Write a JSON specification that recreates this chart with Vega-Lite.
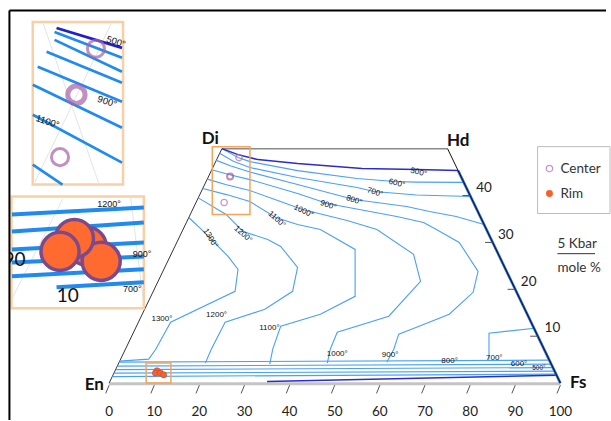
{
"$schema": "https://vega.github.io/schema/vega-lite/v6.json",
"width": 611, "height": 421, "padding": 0,
"autosize": {"type": "fit", "contains": "padding"},
"background": "white",
"config": {"view": {"stroke": null}},
"datasets": {
"seg": [
{"k":"frame","x":-22.09,"y":79.47,"x2":-22.09,"y2":-7.87},
{"k":"frame","x":-22.09,"y":79.47,"x2":110.11,"y2":79.47},
{"k":"base","x":0,"y":-0.15,"x2":100,"y2":-0.15},
{"k":"side","x":0,"y":0,"x2":25,"y2":50},
{"k":"topside","x":25,"y":50,"x2":75,"y2":50},
{"k":"rblue","x":77.34,"y":45.32,"x2":100,"y2":0},
{"k":"rblack","x":75,"y":50,"x2":100,"y2":0},
{"k":"tick","x":0,"y":-0.45,"x2":-0.75,"y2":-2.2},
{"k":"tick","x":10,"y":-0.45,"x2":9.25,"y2":-2.2},
{"k":"tick","x":20,"y":-0.45,"x2":19.25,"y2":-2.2},
{"k":"tick","x":30,"y":-0.45,"x2":29.25,"y2":-2.2},
{"k":"tick","x":40,"y":-0.45,"x2":39.25,"y2":-2.2},
{"k":"tick","x":50,"y":-0.45,"x2":49.25,"y2":-2.2},
{"k":"tick","x":60,"y":-0.45,"x2":59.25,"y2":-2.2},
{"k":"tick","x":70,"y":-0.45,"x2":69.25,"y2":-2.2},
{"k":"tick","x":80,"y":-0.45,"x2":79.25,"y2":-2.2},
{"k":"tick","x":90,"y":-0.45,"x2":89.25,"y2":-2.2},
{"k":"tick","x":100,"y":-0.45,"x2":99.25,"y2":-2.2},
{"k":"tick","x":78.3,"y":40,"x2":80,"y2":40},
{"k":"tick","x":83.3,"y":30,"x2":85,"y2":30},
{"k":"tick","x":88.3,"y":20,"x2":90,"y2":20},
{"k":"tick","x":93.3,"y":10,"x2":95,"y2":10},
{"k":"infaint","x":-14.73,"y":77.02,"x2":-2.2,"y2":42.34},
{"k":"infaint","x":0.66,"y":77.02,"x2":-16.48,"y2":42.77},
{"k":"infaint","x":-10.26,"y":39.3,"x2":-21.6,"y2":17.87},
{"k":"infaint","x":4.77,"y":39.51,"x2":7.69,"y2":16.81},
{"k":"in1d","x":-11.65,"y":75.74,"x2":2.86,"y2":71.49},
{"k":"in1","x":-12.09,"y":74.89,"x2":2.86,"y2":69.36},
{"k":"in1","x":-12.09,"y":73.19,"x2":2.86,"y2":66.38},
{"k":"in1","x":-13.85,"y":70.64,"x2":2.86,"y2":64.04},
{"k":"in1","x":-15.82,"y":67.45,"x2":2.86,"y2":60.0},
{"k":"in1","x":-16.92,"y":63.62,"x2":2.86,"y2":54.47},
{"k":"in1","x":-16.92,"y":57.23,"x2":2.86,"y2":47.02},
{"k":"in1","x":-16.92,"y":46.6,"x2":-10.33,"y2":42.34},
{"k":"in2","x":-21.54,"y":35.96,"x2":7.69,"y2":37.45},
{"k":"in2","x":-21.54,"y":32.34,"x2":7.69,"y2":34.26},
{"k":"in2","x":-21.54,"y":28.51,"x2":7.69,"y2":30.0},
{"k":"in2","x":-21.54,"y":25.74,"x2":7.69,"y2":27.02},
{"k":"in2","x":-21.54,"y":22.77,"x2":7.69,"y2":24.26},
{"k":"in2","x":-11.65,"y":20.43,"x2":7.69,"y2":21.49},
{"k":"ul","x":99.34,"y":27.6,"x2":107.69,"y2":27.6}
],
"rects": [
{"k":"obox","x":22.86,"y":50.43,"x2":31.21,"y2":35.96},
{"k":"obox","x":8.2,"y":4.26,"x2":13.69,"y2":0},
{"k":"inset","x":-16.92,"y":77.02,"x2":3.08,"y2":42.34},
{"k":"inset","x":-21.65,"y":39.79,"x2":7.69,"y2":15.96},
{"k":"mask","x":-24.18,"y":81.7,"x2":-22.1,"y2":-7.87},
{"k":"legend","x":94.95,"y":50.43,"x2":111,"y2":36.17}
],
"iso": [
{"g":"t500","o":1,"x":25,"y":50},{"g":"t500","o":2,"x":28.57,"y":48.72},{"g":"t500","o":3,"x":32.97,"y":47.66},{"g":"t500","o":4,"x":41.76,"y":46.81},{"g":"t500","o":5,"x":56.04,"y":45.74},{"g":"t500","o":6,"x":68.13,"y":45.53},{"g":"t500","o":7,"x":77.34,"y":45.32},
{"g":"b500","o":1,"x":35,"y":0.32},{"g":"b500","o":2,"x":99.15,"y":1.7},
{"g":"t600","o":1,"x":25,"y":50},{"g":"t600","o":2,"x":28.57,"y":48.09},{"g":"t600","o":3,"x":31.21,"y":47.23},{"g":"t600","o":4,"x":41.76,"y":45.32},{"g":"t600","o":5,"x":54.95,"y":43.62},{"g":"t600","o":6,"x":63.3,"y":42.98},{"g":"t600","o":7,"x":68.13,"y":42.87},{"g":"t600","o":8,"x":78.6,"y":42.8},
{"g":"t700","o":1,"x":24.5,"y":49},{"g":"t700","o":2,"x":27.5,"y":47.3},{"g":"t700","o":3,"x":31.21,"y":45.96},{"g":"t700","o":4,"x":41.76,"y":43.83},{"g":"t700","o":5,"x":54.95,"y":41.7},{"g":"t700","o":6,"x":58.68,"y":40.85},{"g":"t700","o":7,"x":68.13,"y":40.11},{"g":"t700","o":8,"x":80.1,"y":39.8},
{"g":"t800","o":1,"x":23.75,"y":47.5},{"g":"t800","o":2,"x":27,"y":46.3},{"g":"t800","o":3,"x":31.21,"y":45.0},{"g":"t800","o":4,"x":41.76,"y":42.34},{"g":"t800","o":5,"x":54.29,"y":39.15},{"g":"t800","o":6,"x":65.93,"y":37.66},{"g":"t800","o":7,"x":70.99,"y":36.6},{"g":"t800","o":8,"x":76.92,"y":35.53},{"g":"t800","o":9,"x":83.09,"y":33.83},
{"g":"t900","o":1,"x":22.75,"y":45.5},{"g":"t900","o":2,"x":26.5,"y":44.5},{"g":"t900","o":3,"x":31.21,"y":43.4},{"g":"t900","o":4,"x":41.76,"y":40.43},{"g":"t900","o":5,"x":48.35,"y":38.3},{"g":"t900","o":6,"x":63.74,"y":35.53},{"g":"t900","o":7,"x":69.67,"y":34.26},{"g":"t900","o":8,"x":72.53,"y":32.77},{"g":"t900","o":9,"x":77.58,"y":30.0},{"g":"t900","o":10,"x":81.76,"y":23.83},{"g":"t900","o":11,"x":80.66,"y":19.36},{"g":"t900","o":12,"x":75.38,"y":14.68},{"g":"t900","o":13,"x":68.13,"y":11.91},{"g":"t900","o":14,"x":64.18,"y":10.43},{"g":"t900","o":15,"x":63.08,"y":7.23},{"g":"t900","o":16,"x":61.54,"y":4.47},
{"g":"t1000","o":1,"x":21.75,"y":43.5},{"g":"t1000","o":2,"x":26,"y":42.3},{"g":"t1000","o":3,"x":31.21,"y":41.06},{"g":"t1000","o":4,"x":37.36,"y":38.94},{"g":"t1000","o":5,"x":42.86,"y":37.02},{"g":"t1000","o":6,"x":52.75,"y":34.68},{"g":"t1000","o":7,"x":59.34,"y":32.77},{"g":"t1000","o":8,"x":67.47,"y":27.45},{"g":"t1000","o":9,"x":69.01,"y":21.7},{"g":"t1000","o":10,"x":61.98,"y":14.26},{"g":"t1000","o":11,"x":50.55,"y":10.85},{"g":"t1000","o":12,"x":49.01,"y":7.23},{"g":"t1000","o":13,"x":48.35,"y":4.26},
{"g":"t1100","o":1,"x":20.75,"y":41.5},{"g":"t1100","o":2,"x":26,"y":40.2},{"g":"t1100","o":3,"x":31.21,"y":38.72},{"g":"t1100","o":4,"x":36.92,"y":35.32},{"g":"t1100","o":5,"x":41.76,"y":33.83},{"g":"t1100","o":6,"x":46.81,"y":32.77},{"g":"t1100","o":7,"x":54.51,"y":28.51},{"g":"t1100","o":8,"x":54.51,"y":18.51},{"g":"t1100","o":9,"x":46.81,"y":14.68},{"g":"t1100","o":10,"x":38.02,"y":12.13},{"g":"t1100","o":11,"x":36.26,"y":7.23},{"g":"t1100","o":12,"x":35.6,"y":4.04},
{"g":"t1200","o":1,"x":19.75,"y":39.5},{"g":"t1200","o":2,"x":25.93,"y":35.96},{"g":"t1200","o":3,"x":29.67,"y":32.34},{"g":"t1200","o":4,"x":35.16,"y":30.64},{"g":"t1200","o":5,"x":38.02,"y":29.15},{"g":"t1200","o":6,"x":41.76,"y":24.68},{"g":"t1200","o":7,"x":40.66,"y":19.57},{"g":"t1200","o":8,"x":34.51,"y":15.74},{"g":"t1200","o":9,"x":25.71,"y":12.98},{"g":"t1200","o":10,"x":22.64,"y":7.23},{"g":"t1200","o":11,"x":21.32,"y":4.26},
{"g":"t1300","o":1,"x":17.66,"y":35.32},{"g":"t1300","o":2,"x":20.44,"y":32.77},{"g":"t1300","o":3,"x":26.37,"y":27.02},{"g":"t1300","o":4,"x":28.57,"y":24.26},{"g":"t1300","o":5,"x":27.91,"y":19.57},{"g":"t1300","o":6,"x":13.63,"y":12.98},{"g":"t1300","o":7,"x":10.33,"y":7.23},{"g":"t1300","o":8,"x":8.79,"y":5.11},{"g":"t1300","o":9,"x":2.34,"y":4.68},
{"g":"p700","o":1,"x":94.29,"y":11.7},{"g":"p700","o":2,"x":84.18,"y":10.64},{"g":"p700","o":3,"x":84.18,"y":5.11},
{"g":"ba","o":1,"x":2.24,"y":4.47},{"g":"ba","o":2,"x":97.55,"y":4.89},
{"g":"bb","o":1,"x":1.81,"y":3.62},{"g":"bb","o":2,"x":97.98,"y":4.04},
{"g":"bc","o":1,"x":1.44,"y":2.87},{"g":"bc","o":2,"x":98.35,"y":3.3},
{"g":"bd","o":1,"x":1.06,"y":2.13},{"g":"bd","o":2,"x":98.72,"y":2.55},
{"g":"be","o":1,"x":0.69,"y":1.38},{"g":"be","o":2,"x":99.05,"y":1.91}
],
"labels": [
{"k":"lab12","t":"500°","x":68.57,"y":44.89},
{"k":"lab12","t":"600°","x":63.74,"y":42.55},
{"k":"lab18","t":"700°","x":58.9,"y":40.64},
{"k":"lab18","t":"800°","x":54.29,"y":38.94},
{"k":"lab18","t":"900°","x":48.57,"y":37.87},
{"k":"lab25","t":"1000°","x":43.08,"y":36.6},
{"k":"lab42","t":"1100°","x":37.14,"y":34.89},
{"k":"lab42","t":"1200°","x":29.67,"y":31.7},
{"k":"lab60","t":"1300°","x":22.42,"y":30.85},
{"k":"lab0","t":"1300°","x":11.71,"y":13.62},
{"k":"lab0","t":"1200°","x":23.81,"y":14.47},
{"k":"lab0","t":"1100°","x":35.53,"y":11.7},
{"k":"lab0","t":"1000°","x":50.55,"y":6.17},
{"k":"lab0","t":"900°","x":62.27,"y":5.96},
{"k":"lab0","t":"800°","x":75.46,"y":4.62},
{"k":"lab0","t":"700°","x":85.35,"y":5.25},
{"k":"lab0","t":"600°","x":90.84,"y":4.04},
{"k":"labsm","t":"500°","x":95.24,"y":3.12},
{"k":"inlab","t":"500°","x":1.54,"y":72.77},
{"k":"inlab","t":"900°","x":-0.44,"y":60.0},
{"k":"inlab","t":"1100°","x":-13.63,"y":55.74},
{"k":"in2lab","t":"1200°","x":0,"y":38.09},
{"k":"in2lab","t":"900°","x":7.32,"y":27.45},
{"k":"in2lab","t":"700°","x":5.13,"y":20.14},
{"k":"in2big","t":"10","x":-9.16,"y":18.58},
{"k":"in2bigr","t":"90","x":-18.5,"y":26.17},
{"k":"legtxt","t":"Center","x":100.0,"y":45.74},
{"k":"legtxt","t":"Rim","x":100.0,"y":40.43},
{"k":"legtxt","t":"5 Kbar","x":99.34,"y":29.57},
{"k":"legtxt","t":"mole %","x":99.34,"y":24.47},
{"k":"corner","t":"Di","x":22.42,"y":52.02},
{"k":"corner","t":"Hd","x":77.36,"y":51.6},
{"k":"corner","t":"En","x":-3.3,"y":-0.43},
{"k":"corner","t":"Fs","x":103.96,"y":0},
{"k":"axis","t":"0","x":0,"y":-6.17},
{"k":"axis","t":"10","x":10,"y":-6.17},
{"k":"axis","t":"20","x":20,"y":-6.17},
{"k":"axis","t":"30","x":30,"y":-6.17},
{"k":"axis","t":"40","x":40,"y":-6.17},
{"k":"axis","t":"50","x":50,"y":-6.17},
{"k":"axis","t":"60","x":60,"y":-6.17},
{"k":"axis","t":"70","x":70,"y":-6.17},
{"k":"axis","t":"80","x":80,"y":-6.17},
{"k":"axis","t":"90","x":90,"y":-6.17},
{"k":"axis","t":"100","x":100,"y":-6.17},
{"k":"axis","t":"40","x":83.08,"y":41.7},
{"k":"axis","t":"30","x":87.91,"y":31.6},
{"k":"axis","t":"20","x":92.97,"y":21.49},
{"k":"axis","t":"10","x":98.24,"y":11.7}
],
"pts": [
{"k":"center","x":28.79,"y":48.09},
{"k":"centerb","x":26.81,"y":44.04},
{"k":"center","x":25.49,"y":38.51},
{"k":"rim","x":10.62,"y":2.62},
{"k":"rim","x":10.26,"y":2.13},
{"k":"rim","x":11.36,"y":2.13},
{"k":"rim","x":12.09,"y":1.77},
{"k":"inc","x":-2.92,"y":71.32},
{"k":"inc","x":-10.88,"y":48.19},
{"k":"incb","x":-7.25,"y":61.49},
{"k":"inr","x":-4.84,"y":29.15},
{"k":"inr","x":-1.76,"y":25.96},
{"k":"inr","x":-7.69,"y":30.85},
{"k":"inr","x":-10.88,"y":28.09},
{"k":"lgc","x":97.58,"y":45.74},
{"k":"lgr","x":97.58,"y":40.43}
]
},
"encoding": {
"x": {"field":"x","type":"quantitative","scale":{"domain":[-24.18,110.11],"nice":false,"zero":false},"axis":null},
"y": {"field":"y","type":"quantitative","scale":{"domain":[-7.87,81.70],"nice":false,"zero":false},"axis":null}
},
"layer": [
{"data":{"name":"seg"},"transform":[{"filter":"datum.k==='base'"}],"mark":{"type":"rule","color":"#c4c4c4","strokeWidth":3},"encoding":{"x2":{"field":"x2"},"y2":{"field":"y2"}}},
{"data":{"name":"seg"},"transform":[{"filter":"datum.k==='side'"}],"mark":{"type":"rule","color":"#333333","strokeWidth":1},"encoding":{"x2":{"field":"x2"},"y2":{"field":"y2"}}},
{"data":{"name":"seg"},"transform":[{"filter":"datum.k==='topside'"}],"mark":{"type":"rule","color":"#8a8a8a","strokeWidth":1.5},"encoding":{"x2":{"field":"x2"},"y2":{"field":"y2"}}},
{"data":{"name":"iso"},"transform":[{"filter":"datum.g!=='t500' && datum.g!=='b500'"}],"mark":{"type":"line","color":"#4aa0f5","strokeWidth":1.1},"encoding":{"detail":{"field":"g"},"order":{"field":"o","type":"quantitative"}}},
{"data":{"name":"iso"},"transform":[{"filter":"datum.g==='t500' || datum.g==='b500'"}],"mark":{"type":"line","color":"#2b2bd0","strokeWidth":1.5},"encoding":{"detail":{"field":"g"},"order":{"field":"o","type":"quantitative"}}},
{"data":{"name":"seg"},"transform":[{"filter":"datum.k==='rblue'"}],"mark":{"type":"rule","color":"#2a6ad8","strokeWidth":2.6},"encoding":{"x2":{"field":"x2"},"y2":{"field":"y2"}}},
{"data":{"name":"seg"},"transform":[{"filter":"datum.k==='rblack'"}],"mark":{"type":"rule","color":"#111111","strokeWidth":1},"encoding":{"x2":{"field":"x2"},"y2":{"field":"y2"}}},
{"data":{"name":"seg"},"transform":[{"filter":"datum.k==='tick'"}],"mark":{"type":"rule","color":"#555555","strokeWidth":1},"encoding":{"x2":{"field":"x2"},"y2":{"field":"y2"}}},
{"data":{"name":"labels"},"transform":[{"filter":"datum.k==='lab0'"}],"mark":{"type":"text","font":"Liberation Sans","fontSize":8,"color":"#111111"},"encoding":{"text":{"field":"t"}}},
{"data":{"name":"labels"},"transform":[{"filter":"datum.k==='labsm'"}],"mark":{"type":"text","font":"Liberation Sans","fontSize":6.5,"color":"#111111"},"encoding":{"text":{"field":"t"}}},
{"data":{"name":"labels"},"transform":[{"filter":"datum.k==='lab12'"}],"mark":{"type":"text","font":"Liberation Sans","fontSize":8,"angle":14,"color":"#111111"},"encoding":{"text":{"field":"t"}}},
{"data":{"name":"labels"},"transform":[{"filter":"datum.k==='lab18'"}],"mark":{"type":"text","font":"Liberation Sans","fontSize":8,"angle":18,"color":"#111111"},"encoding":{"text":{"field":"t"}}},
{"data":{"name":"labels"},"transform":[{"filter":"datum.k==='lab25'"}],"mark":{"type":"text","font":"Liberation Sans","fontSize":8,"angle":25,"color":"#111111"},"encoding":{"text":{"field":"t"}}},
{"data":{"name":"labels"},"transform":[{"filter":"datum.k==='lab42'"}],"mark":{"type":"text","font":"Liberation Sans","fontSize":8,"angle":42,"color":"#111111"},"encoding":{"text":{"field":"t"}}},
{"data":{"name":"labels"},"transform":[{"filter":"datum.k==='lab60'"}],"mark":{"type":"text","font":"Liberation Sans","fontSize":8,"angle":58,"color":"#111111"},"encoding":{"text":{"field":"t"}}},
{"data":{"name":"rects"},"transform":[{"filter":"datum.k==='obox'"}],"mark":{"type":"rect","fill":null,"fillOpacity":0,"stroke":"#f3a55c","strokeWidth":1.5},"encoding":{"x2":{"field":"x2"},"y2":{"field":"y2"}}},
{"data":{"name":"pts"},"transform":[{"filter":"datum.k==='center'"}],"mark":{"type":"point","shape":"circle","filled":false,"color":"#b06ab0","size":40,"strokeWidth":1.3}},
{"data":{"name":"pts"},"transform":[{"filter":"datum.k==='centerb'"}],"mark":{"type":"point","shape":"circle","filled":false,"color":"#a05aa0","size":36,"strokeWidth":2}},
{"data":{"name":"pts"},"transform":[{"filter":"datum.k==='rim'"}],"mark":{"type":"point","shape":"circle","filled":true,"fill":"#f4622c","stroke":"#b84a3a","strokeWidth":0.6,"opacity":1,"size":38}},
{"data":{"name":"rects"},"transform":[{"filter":"datum.k==='inset'"}],"mark":{"type":"rect","fill":"white","stroke":"#fbcfa3","strokeWidth":2.5},"encoding":{"x2":{"field":"x2"},"y2":{"field":"y2"}}},
{"data":{"name":"seg"},"transform":[{"filter":"datum.k==='infaint'"}],"mark":{"type":"rule","color":"#dcdcdc","strokeWidth":0.8},"encoding":{"x2":{"field":"x2"},"y2":{"field":"y2"}}},
{"data":{"name":"seg"},"transform":[{"filter":"datum.k==='in1'"}],"mark":{"type":"rule","color":"#1f8af0","strokeWidth":2.7},"encoding":{"x2":{"field":"x2"},"y2":{"field":"y2"}}},
{"data":{"name":"seg"},"transform":[{"filter":"datum.k==='in1d'"}],"mark":{"type":"rule","color":"#2020c8","strokeWidth":2.7},"encoding":{"x2":{"field":"x2"},"y2":{"field":"y2"}}},
{"data":{"name":"seg"},"transform":[{"filter":"datum.k==='in2'"}],"mark":{"type":"rule","color":"#1f8af0","strokeWidth":4},"encoding":{"x2":{"field":"x2"},"y2":{"field":"y2"}}},
{"data":{"name":"labels"},"transform":[{"filter":"datum.k==='inlab'"}],"mark":{"type":"text","font":"Liberation Sans","fontSize":9.5,"angle":18,"color":"#111111"},"encoding":{"text":{"field":"t"}}},
{"data":{"name":"labels"},"transform":[{"filter":"datum.k==='in2lab'"}],"mark":{"type":"text","font":"Liberation Sans","fontSize":9,"color":"#111111"},"encoding":{"text":{"field":"t"}}},
{"data":{"name":"labels"},"transform":[{"filter":"datum.k==='in2big'"}],"mark":{"type":"text","font":"Lato","fontSize":19,"color":"#111111"},"encoding":{"text":{"field":"t"}}},
{"data":{"name":"labels"},"transform":[{"filter":"datum.k==='in2bigr'"}],"mark":{"type":"text","font":"Lato","fontSize":19,"align":"right","color":"#111111"},"encoding":{"text":{"field":"t"}}},
{"data":{"name":"pts"},"transform":[{"filter":"datum.k==='inc'"}],"mark":{"type":"point","shape":"circle","filled":false,"color":"#a862a8","size":290,"strokeWidth":3}},
{"data":{"name":"pts"},"transform":[{"filter":"datum.k==='incb'"}],"mark":{"type":"point","shape":"circle","filled":false,"color":"#a862a8","size":300,"strokeWidth":5}},
{"data":{"name":"pts"},"transform":[{"filter":"datum.k==='inr'"}],"mark":{"type":"point","shape":"circle","filled":true,"fill":"#ff6a30","stroke":"#7b4a8c","strokeWidth":3.5,"opacity":1,"size":1450}},
{"data":{"name":"rects"},"transform":[{"filter":"datum.k==='mask'"}],"mark":{"type":"rect","fill":"white","stroke":null},"encoding":{"x2":{"field":"x2"},"y2":{"field":"y2"}}},
{"data":{"name":"rects"},"transform":[{"filter":"datum.k==='legend'"}],"mark":{"type":"rect","fill":"white","stroke":"#bcbcbc","strokeWidth":1},"encoding":{"x2":{"field":"x2"},"y2":{"field":"y2"}}},
{"data":{"name":"pts"},"transform":[{"filter":"datum.k==='lgc'"}],"mark":{"type":"point","shape":"circle","filled":false,"color":"#b06ab0","size":42,"strokeWidth":1.3}},
{"data":{"name":"pts"},"transform":[{"filter":"datum.k==='lgr'"}],"mark":{"type":"point","shape":"circle","filled":true,"fill":"#f4622c","opacity":1,"size":48}},
{"data":{"name":"labels"},"transform":[{"filter":"datum.k==='legtxt'"}],"mark":{"type":"text","font":"Lato","fontSize":13.5,"align":"left","color":"#333333"},"encoding":{"text":{"field":"t"}}},
{"data":{"name":"seg"},"transform":[{"filter":"datum.k==='ul'"}],"mark":{"type":"rule","color":"#333333","strokeWidth":1},"encoding":{"x2":{"field":"x2"},"y2":{"field":"y2"}}},
{"data":{"name":"labels"},"transform":[{"filter":"datum.k==='corner'"}],"mark":{"type":"text","font":"Lato","fontSize":17,"fontWeight":"bold","color":"#111111"},"encoding":{"text":{"field":"t"}}},
{"data":{"name":"labels"},"transform":[{"filter":"datum.k==='axis'"}],"mark":{"type":"text","font":"Lato","fontSize":13.5,"color":"#222222"},"encoding":{"text":{"field":"t"}}},
{"data":{"name":"seg"},"transform":[{"filter":"datum.k==='frame'"}],"mark":{"type":"rule","color":"#000000","strokeWidth":2},"encoding":{"x2":{"field":"x2"},"y2":{"field":"y2"}}}
]
}
